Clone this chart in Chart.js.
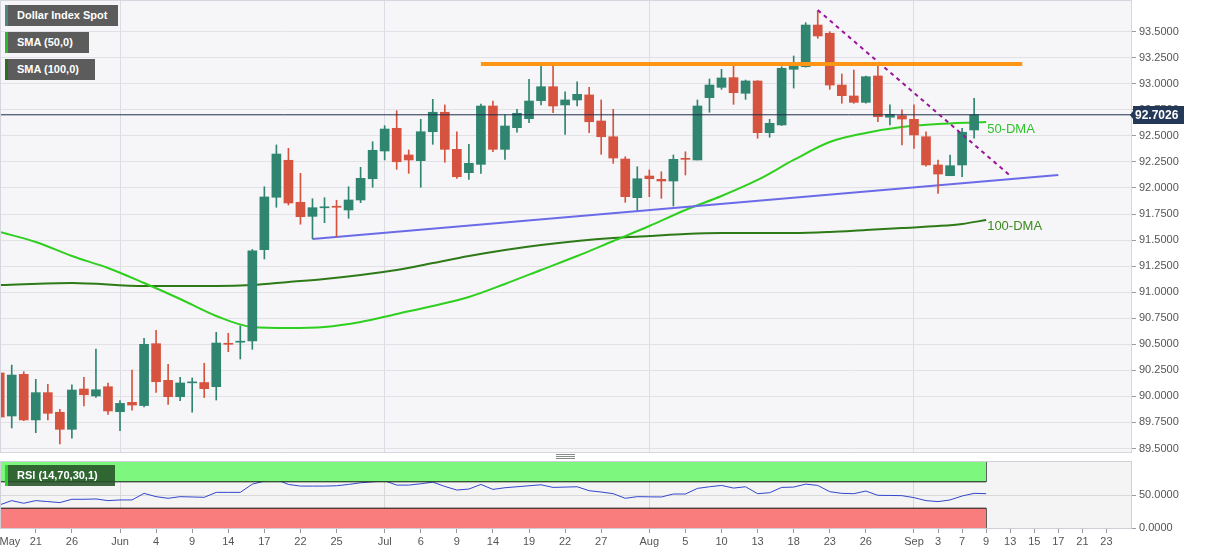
<!DOCTYPE html>
<html><head><meta charset="utf-8">
<script src="https://cdn.jsdelivr.net/npm/chart.js@4.4.1/dist/chart.umd.min.js"></script>
<style>
html,body{margin:0;padding:0;background:#fff;width:1207px;height:555px;overflow:hidden;font-family:"Liberation Sans",Arial,sans-serif;}
#main{position:absolute;left:0;top:0;}
#rsi{position:absolute;left:0;top:458px;}
.tag{position:absolute;left:5px;height:21px;line-height:21px;background:#5c5c5c;color:#fff;font-weight:bold;font-size:11px;padding-left:9px;box-sizing:border-box;white-space:nowrap;}
.grip{position:absolute;left:556px;width:19px;height:1px;background:#8a8a8a;}
</style></head><body>
<canvas id="main" width="1207" height="453" style="width:1207px;height:453px"></canvas>
<canvas id="rsi" width="1207" height="97" style="width:1207px;height:97px"></canvas>
<div class="tag" style="top:5px;width:113px;border-left:3px solid #4f8484">Dollar Index Spot</div>
<div class="tag" style="top:32px;width:84px;border-left:3px solid #2fb82f">SMA (50,0)</div>
<div class="tag" style="top:59px;width:90px;border-left:3px solid #2e6e1c">SMA (100,0)</div>
<div class="tag" style="top:465px;width:110px;background:rgba(38,82,40,0.88);border-left:3px solid #2fd02f">RSI (14,70,30,1)</div>
<div class="grip" style="top:454px"></div>
<div class="grip" style="top:456px"></div>
<div class="grip" style="top:458px"></div>
<script>
// ---- DATA ----
const tickIdx = [0.85,3,6,10,13,16,19,22,25,28,32,35,38,41,44,47,50,54,57,60,63,66,69,72,76,78,80,82,84,86,88,90,92];
const tickLbl = ['May','21','26','Jun','4','9','14','17','22','25','Jul','6','9','14','19','22','27','Aug','5','10','13','18','23','26','Sep','3','7','9','13','15','17','21','23'];
const monthIdx = [10,32,54,76];
const yTicks = [89.5,89.75,90,90.25,90.5,90.75,91,91.25,91.5,91.75,92,92.25,92.5,92.75,93,93.25,93.5];

const open  = [90.225,89.812,90.212,89.774,90.036,89.848,89.684,90.071,90.004,90.093,89.853,89.943,89.912,90.506,90.154,89.997,90.130,90.133,90.093,90.510,90.520,90.532,91.408,91.911,92.266,91.863,91.728,91.810,91.825,91.789,91.885,92.089,92.355,92.573,92.317,92.262,92.540,92.727,92.371,92.147,92.227,92.787,92.371,92.579,92.665,92.838,92.972,92.797,92.845,92.893,92.643,92.492,92.278,91.907,92.115,92.083,92.067,92.285,92.269,92.867,92.966,93.059,92.909,93.027,92.531,92.605,93.139,93.164,93.564,93.485,92.988,92.883,92.822,93.075,92.679,92.694,92.659,92.492,92.221,92.118,92.221,92.557];
const high  = [90.240,90.301,90.237,90.164,90.116,89.876,90.112,90.184,90.455,90.127,89.960,90.253,90.558,90.634,90.308,90.184,90.177,90.318,90.615,90.606,90.676,91.410,92.012,92.413,92.381,92.141,91.897,91.907,91.882,92.012,92.199,92.444,92.598,92.742,92.365,92.659,92.851,92.797,92.540,92.419,92.806,92.835,92.701,92.755,93.043,93.171,93.171,92.924,93.020,92.966,92.845,92.755,92.300,92.204,92.173,92.156,92.317,92.348,92.845,93.046,93.139,93.174,93.036,93.030,92.659,93.164,93.267,93.586,93.700,93.500,93.094,93.132,93.075,93.180,92.797,92.749,92.797,92.540,92.269,92.317,92.573,92.861];
const low   = [89.706,89.697,89.767,89.652,89.774,89.543,89.598,89.908,89.989,89.828,89.670,89.867,89.900,90.039,89.924,89.960,89.848,89.989,89.965,90.429,90.359,90.452,91.319,91.815,91.837,91.652,91.513,91.667,91.533,91.709,91.859,92.007,92.269,92.179,92.141,92.007,92.419,92.247,92.093,92.083,92.141,92.348,92.275,92.535,92.627,92.797,92.723,92.515,92.787,92.531,92.323,92.237,91.863,91.789,91.917,91.901,91.827,92.125,92.269,92.727,92.947,92.803,92.851,92.477,92.487,92.600,92.959,93.160,93.437,92.947,92.813,92.813,92.813,92.636,92.605,92.413,92.381,92.210,91.949,92.118,92.108,92.477];
const close = [89.802,90.205,89.774,90.036,89.838,89.684,90.061,90.016,90.064,89.860,89.933,89.917,90.500,90.141,89.997,90.129,90.137,90.074,90.512,90.500,90.530,91.398,91.914,92.326,91.856,91.725,91.811,91.815,91.815,91.885,92.093,92.362,92.566,92.252,92.269,92.540,92.727,92.371,92.108,92.237,92.787,92.371,92.595,92.717,92.835,92.972,92.787,92.845,92.899,92.636,92.492,92.288,91.917,92.089,92.089,92.067,92.275,92.275,92.787,92.988,93.056,92.915,93.027,92.531,92.621,93.149,93.168,93.564,93.459,92.988,92.886,92.822,93.068,92.684,92.707,92.662,92.509,92.221,92.134,92.214,92.535,92.7026];

const ma50Idx = [0,3,6,9,12,15,18,21,24,27,30,33,36,39,42,45,48,51,54,57,60,63,66,69,72,75,78,81,82];
const ma50    = [91.578,91.482,91.347,91.232,91.088,90.935,90.772,90.666,90.656,90.666,90.714,90.791,90.868,90.954,91.079,91.213,91.347,91.491,91.635,91.789,91.923,92.077,92.269,92.441,92.528,92.585,92.614,92.629,92.633];
const ma100Idx = [0,6,12,18,21,24,27,30,33,36,39,42,45,48,51,54,57,60,63,66,69,72,75,78,80,82];
const ma100    = [91.069,91.088,91.059,91.059,91.069,91.098,91.127,91.165,91.213,91.280,91.347,91.405,91.453,91.491,91.520,91.539,91.559,91.568,91.568,91.568,91.578,91.597,91.616,91.635,91.655,91.693];

const rsi = [35,41.5,37.5,41.5,40,38.5,43.5,43.5,44,41.5,42.5,42.5,52.5,47.5,45,47.5,47,46.5,54,54,54,66.5,71,73.5,66,63.5,63.5,63.5,64,66,68.5,70,71.5,65,65,67,69.5,63,57.5,59,66,58.5,61,62.5,64,65.5,61.5,62,62.5,56.5,54.5,52,45,47.5,47.2,47,51.5,51.5,60,62.5,64.5,60.5,62.5,52,53.5,61.5,62,66.5,64.5,55,52.5,52,56,49.5,49.3,49,46,41.5,40,42.5,48.5,52.5,52];

const lastPrice = 92.7026;
const resistance = {from:40, to:85, value:93.19};
const trendDown = {from:68, to:84, v1:93.708, v2:92.118};
const support = {from:26, to:88, v1:91.511, v2:92.125};

// ---- SETUP ----
const X_MIN = 0.108, X_MAX = 94.04;
const GREEN = '#2f8570', RED = '#d6533f';
const FONT = {size:11, family:'"Liberation Sans", Arial, sans-serif'};
const candleColors = open.map((o,i)=> close[i] >= o ? GREEN : RED);
const pts = (xs, ys) => xs.map((x,k)=>({x, y:ys[k]}));

const areaPlugin = {
  id:'area',
  beforeDraw(chart, args, opts){
    const {ctx, chartArea:a} = chart;
    ctx.save(); ctx.fillStyle = opts.bg; ctx.fillRect(a.left, a.top, a.right-a.left, a.bottom-a.top); ctx.restore();
  },
  afterDraw(chart, args, opts){
    const {ctx, chartArea:a} = chart;
    ctx.save(); ctx.strokeStyle = opts.border; ctx.lineWidth = 1;
    ctx.strokeRect(a.left-0.5, a.top-0.5, a.right-a.left+1, a.bottom-a.top+1); ctx.restore();
  }
};

const labelsPlugin = {
  id:'mainLabels',
  afterDatasetsDraw(chart){
    const {ctx, scales:{x, y}} = chart;
    ctx.save();
    ctx.font = '13px "Liberation Sans", Arial, sans-serif';
    ctx.textBaseline = 'middle'; ctx.textAlign = 'left';
    const xe = x.getPixelForValue(ma50Idx[ma50Idx.length-1]) + 1;
    ctx.fillStyle = '#2fc42a';
    ctx.fillText('50-DMA', xe, y.getPixelForValue(ma50[ma50.length-1]) + 7);
    ctx.fillStyle = '#3a8a1f';
    ctx.fillText('100-DMA', xe, y.getPixelForValue(ma100[ma100.length-1]) + 6);
    ctx.restore();
  },
  afterDraw(chart){
    const {ctx, scales:{y}, chartArea:a} = chart;
    const py = Math.round(y.getPixelForValue(lastPrice));
    ctx.save();
    ctx.fillStyle = '#243858';
    ctx.fillRect(a.right+2, py-9, 51, 18);
    ctx.beginPath(); ctx.moveTo(a.right+2, py-4); ctx.lineTo(a.right-1, py); ctx.lineTo(a.right+2, py+4); ctx.fill();
    ctx.fillStyle = '#fff';
    ctx.font = 'bold 12px "Liberation Sans", Arial, sans-serif';
    ctx.textBaseline = 'middle'; ctx.textAlign = 'left';
    ctx.fillText(lastPrice.toFixed(4), a.right+4, py+1);
    ctx.restore();
  }
};

function zeroPad(s){ s.paddingLeft = 0; s.paddingRight = 0; s.paddingTop = 0; s.paddingBottom = 0; }

new Chart(document.getElementById('main'), {
  type:'bar',
  data:{datasets:[
    {type:'line', data:pts(ma100Idx, ma100), borderColor:'#2e7a18', borderWidth:2, pointRadius:0, tension:0.4, cubicInterpolationMode:'monotone', order:7},
    {type:'line', data:pts(ma50Idx, ma50), borderColor:'#2fcf1f', borderWidth:2, pointRadius:0, tension:0.4, cubicInterpolationMode:'monotone', order:6},
    {type:'line', data:[{x:support.from,y:support.v1},{x:support.to,y:support.v2}], borderColor:'#6b6be8', borderWidth:2, pointRadius:0, order:5},
    {type:'bar', data:high.map((h,i)=>({x:i, y:[low[i], h]})), backgroundColor:candleColors, barThickness:1, grouped:false, order:4},
    {type:'bar', data:open.map((o,i)=>({x:i, y:[o, close[i]]})), backgroundColor:candleColors, barThickness:9, minBarLength:1, grouped:false, order:3},
    {type:'line', data:[{x:X_MIN,y:lastPrice},{x:X_MAX,y:lastPrice}], borderColor:'#1f2f4d', borderWidth:1, pointRadius:0, order:2},
    {type:'line', data:[{x:resistance.from,y:resistance.value},{x:resistance.to,y:resistance.value}], borderColor:'#ff9514', borderWidth:4, pointRadius:0, order:1},
    {type:'line', data:[{x:trendDown.from,y:trendDown.v1},{x:trendDown.to,y:trendDown.v2}], borderColor:'#9a139a', borderWidth:2, borderDash:[4,4], pointRadius:0, order:1}
  ]},
  options:{
    responsive:false, animation:false, devicePixelRatio:1,
    layout:{padding:{left:1, top:1, right:0, bottom:1}},
    plugins:{legend:{display:false}, tooltip:{enabled:false}, area:{bg:'#f6f6f8', border:'#d6d6e0'}},
    scales:{
      x:{type:'linear', min:X_MIN, max:X_MAX, offset:false,
         afterBuildTicks:s=>{ s.ticks = monthIdx.map(v=>({value:v})); },
         ticks:{display:false}, grid:{color:'#dcdce4', drawTicks:false, offset:false}, border:{display:false},
         afterFit:s=>{ s.height = 0; zeroPad(s); }},
      y:{position:'right', min:89.4664, max:93.7946, beginAtZero:false,
         afterBuildTicks:s=>{ s.ticks = yTicks.map(v=>({value:v})); },
         ticks:{callback:v=>Number(v).toFixed(4), color:'#555', font:FONT, padding:3},
         grid:{color:'#e2e2e6', tickLength:5, tickColor:'#9a9a9a'}, border:{display:false},
         afterFit:s=>{ s.width = 76; zeroPad(s); }}
    }
  },
  plugins:[areaPlugin, labelsPlugin]
});

const lastIdx = rsi.length - 1;
new Chart(document.getElementById('rsi'), {
  type:'line',
  data:{datasets:[
    {data:[{x:X_MIN-1,y:70},{x:lastIdx,y:70}], fill:{value:100}, backgroundColor:'#7ef77e', borderColor:'#111', borderWidth:1, pointRadius:0},
    {data:[{x:lastIdx,y:70},{x:lastIdx,y:100}], borderColor:'#111', borderWidth:1, pointRadius:0, fill:false},
    {data:[{x:X_MIN-1,y:30},{x:lastIdx,y:30}], fill:{value:0}, backgroundColor:'#fa7d7d', borderColor:'#111', borderWidth:1, pointRadius:0},
    {data:[{x:lastIdx,y:0},{x:lastIdx,y:30}], borderColor:'#111', borderWidth:1, pointRadius:0, fill:false},
    {data:rsi.map((v,i)=>({x:i,y:v})), borderColor:'#3347cc', borderWidth:1, pointRadius:0, fill:false, tension:0}
  ]},
  options:{
    responsive:false, animation:false, devicePixelRatio:1,
    layout:{padding:{left:1, top:4, right:0, bottom:0}},
    plugins:{legend:{display:false}, tooltip:{enabled:false}, area:{bg:'#f4f4f4', border:'#d0d0d8'}},
    scales:{
      x:{type:'linear', min:X_MIN, max:X_MAX, offset:false,
         afterBuildTicks:s=>{ s.ticks = tickIdx.map(v=>({value:v})); },
         ticks:{callback:(v,i)=>tickLbl[i], autoSkip:false, maxRotation:0, color:'#555', font:FONT, padding:2},
         grid:{offset:false, tickLength:5,
               color:ctx=> (ctx.tick && monthIdx.includes(ctx.tick.value)) ? '#d9d9d9' : 'rgba(0,0,0,0)',
               tickColor:ctx=> (ctx.tick && ctx.tick.value === tickIdx[0]) ? 'rgba(0,0,0,0)' : '#9a9a9a'},
         border:{display:false},
         afterFit:s=>{ s.height = 27; zeroPad(s); }},
      y:{position:'right', min:0, max:100, 
         afterBuildTicks:s=>{ s.ticks = [{value:0},{value:50}]; },
         ticks:{callback:v=>Number(v).toFixed(4), color:'#555', font:FONT, padding:3},
         grid:{tickLength:5, tickColor:'#9a9a9a', color:ctx=> (ctx.tick && ctx.tick.value===50) ? '#d9d9d9' : 'rgba(0,0,0,0)'},
         border:{display:false},
         afterFit:s=>{ s.width = 76; zeroPad(s); }}
    }
  },
  plugins:[areaPlugin]
});
</script>
</body></html>
